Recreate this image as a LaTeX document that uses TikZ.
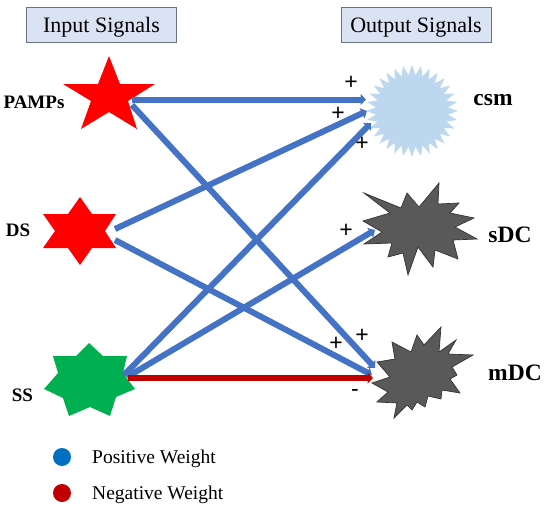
\documentclass[tikz,border=0pt]{standalone}
\usepackage{fontspec}
\setmainfont{Liberation Serif}
\setsansfont{Liberation Sans}
\usetikzlibrary{arrows.meta}
\definecolor{arrowblue}{HTML}{4472C4}
\definecolor{negred}{HTML}{C00000}
\definecolor{headfill}{HTML}{DAE3F3}
\definecolor{headline}{HTML}{6B7280}
\definecolor{burst}{HTML}{595959}
\definecolor{csmblue}{HTML}{BDD7EE}
\definecolor{ssgreen}{HTML}{00B050}
\definecolor{legblue}{HTML}{0070C0}
\tikzset{
  x=1pt,y=-1pt,
  headbox/.style={draw=headline,fill=headfill,line width=1pt,minimum width=150pt,minimum height=35pt,inner sep=0pt,text height=17pt,text depth=2pt,font=\fontsize{22}{24}\selectfont},
  biglabel/.style={font=\fontsize{23.5}{26}\selectfont\bfseries,inner sep=0pt},
  smalllabel/.style={font=\fontsize{19}{22}\selectfont\bfseries,inner sep=0pt},
  signmark/.style={font=\sffamily\fontsize{23}{25}\selectfont,inner sep=0pt},
  legtext/.style={font=\fontsize{19.5}{22}\selectfont,inner sep=0pt,anchor=west},
  posarrow/.style={draw=arrowblue,line width=6pt,-{Triangle[length=5.5pt,width=11pt]}},
  negarrow/.style={draw=negred,line width=6.5pt,-{Triangle[length=5.5pt,width=11pt]}},
  burstshape/.style={draw=black!80,fill=burst,line width=0.7pt,line join=miter},
  dotmark/.style={circle,minimum size=18pt,inner sep=0pt}
}
\begin{document}
\begin{tikzpicture}
\useasboundingbox (0,0) rectangle (550,507);
% headers
\node[headbox] (inhead) at (101.5,24.5) {Input Signals};
\node[headbox] (outhead) at (416,25) {Output Signals};
% input shapes
\fill[red] (109,56)--(120,84)--(155,84)--(128,101)--(137,129)--(109,112)--(81,129)--(91,101)--(63,84)--(98,84)--cycle;
\fill[red] (80,197)--(92,214)--(116,214)--(105,231)--(116,248)--(92,248)--(80,265)--(68,248)--(43,248)--(55,231)--(43,214)--(68,214)--cycle;
\fill[ssgreen] (89,343)--(103,356)--(127,356)--(123,373)--(135,389)--(116,397)--(110,416)--(90,407)--(69,416)--(63,398)--(44,389)--(58,373)--(53,356)--(76,356)--cycle;
% output shapes
\fill[csmblue] (412,111) +(0:46)
  \foreach \a in {0,1,...,31} {
    -- +({\a*11.25+5.625}:36) -- +({(\a+1)*11.25}:46)
  } -- cycle;
\draw[burstshape] (364,193)--(401,208)--(407,193)--(419,207)--(439,183)--(438,204)--(459,203)--(450,213)--(474,218)--(455,227)--(477,239)--(453,240)--(458,259)--(435,250)--(433,267)--(418,247)--(408,275)--(403,253)--(388,257)--(392,243)--(364,244)--(382,232)--(363,221)--(390,213)--cycle;
\draw[burstshape] (377,362)--(395,359)--(392,342)--(411,352)--(417,335)--(424,345)--(441,327)--(439,352)--(456,340)--(448,354)--(473,355)--(452,367)--(457,375)--(450,379)--(460,393)--(442,390)--(441,399)--(428,396)--(425,407)--(417,402)--(412,410)--(407,405)--(394,418)--(397,403)--(377,402)--(388,392)--(372,383)--(390,377)--cycle;
% connector ends
\coordinate (pampsA) at (132,99.5);
\coordinate (pampsB) at (132,105);
\coordinate (dsA) at (115,229);
\coordinate (dsB) at (115,240);
\coordinate (ssA) at (124,375);
\coordinate (ssB) at (127,377);
\coordinate (ssC) at (128,378);
\coordinate (csmA) at (366,99.5);
\coordinate (csmB) at (367,111);
\coordinate (csmC) at (371,123);
\coordinate (sdcA) at (375,230);
\coordinate (mdcA) at (375,368);
\coordinate (mdcB) at (372,375);
\coordinate (mdcC) at (373,378);
% connectors
\draw[posarrow] (pampsA) -- (csmA);
\draw[posarrow] (pampsB) -- (mdcA);
\draw[posarrow] (dsA) -- (csmB);
\draw[posarrow] (dsB) -- (mdcB);
\draw[posarrow] (ssA) -- (csmC);
\draw[posarrow] (ssB) -- (sdcA);
\draw[negarrow] (ssC) -- (mdcC);
% labels
\node[smalllabel] (pamps) at (34,102) {PAMPs};
\node[smalllabel] (ds) at (18,230) {DS};
\node[smalllabel] (ss) at (22.5,395) {SS};
\node[biglabel] (csm) at (493,100) {csm};
\node[biglabel] (sdc) at (510,235) {sDC};
\node[biglabel] (mdc) at (515,373) {mDC};
% signs
\node[signmark] (s1) at (351,83) {+};
\node[signmark] (s2) at (338,114) {+};
\node[signmark] (s3) at (362,144) {+};
\node[signmark] (s4) at (346,231) {+};
\node[signmark] (s5) at (336,344) {+};
\node[signmark] (s6) at (362,336) {+};
\node[signmark] (s7) at (355,393) {-};
% legend
\node[dotmark,fill=legblue] (posdot) at (62,457) {};
\node[dotmark,fill=negred] (negdot) at (62,493) {};
\node[legtext] (postext) at (92,459) {Positive Weight};
\node[legtext] (negtext) at (92,495) {Negative Weight};
\end{tikzpicture}
\end{document}
